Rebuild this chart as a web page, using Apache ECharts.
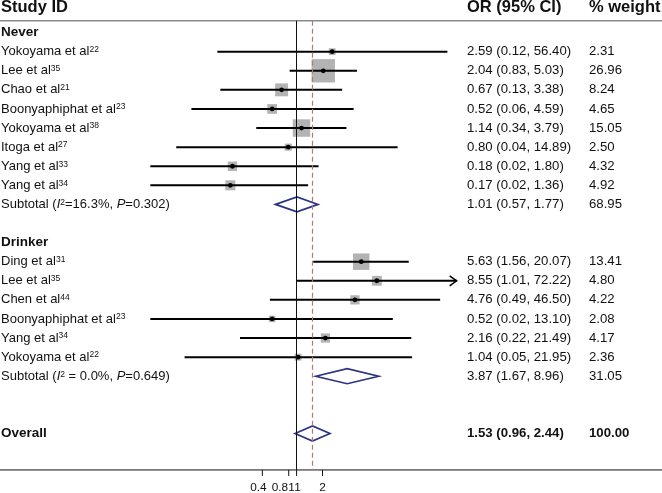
<!DOCTYPE html>
<html><head><meta charset="utf-8">
<script src="https://cdn.jsdelivr.net/npm/echarts@6/dist/echarts.min.js"></script>
<style>html,body{margin:0;padding:0;background:#fff}#main{width:662px;height:493px}</style>
</head><body><div id="main"></div>
<script>
// ---------------- DATA ----------------
const studyNames = ['Yokoyama et al','Lee et al','Chao et al','Boonyaphiphat et al','Yokoyama et al','Itoga et al','Yang et al','Yang et al',
                    'Ding et al','Lee et al','Chen et al','Boonyaphiphat et al','Yang et al','Yokoyama et al'];
const studyRefs = ['22','35','21','23','38','27','33','34','31','35','44','23','34','22'];
const studyRows = [1,2,3,4,5,6,7,8,12,13,14,15,16,17];
const studyOR   = [2.59,2.04,0.67,0.52,1.14,0.80,0.18,0.17,5.63,8.55,4.76,0.52,2.16,1.04];
const studyLow  = [0.12,0.83,0.13,0.06,0.34,0.04,0.02,0.02,1.56,1.01,0.49,0.02,0.22,0.05];
const studyHigh = [56.40,5.03,3.38,4.59,3.79,14.89,1.80,1.36,20.07,72.22,46.50,13.10,21.49,21.95];
const studyWeight = [2.31,26.96,8.24,4.65,15.05,2.50,4.32,4.92,13.41,4.80,4.22,2.08,4.17,2.36];

const groupNames = ['Never','Drinker'];
const groupRows = [0, 11];
const subtotalRows = [9, 18];
const subtotalI2Text = ['=16.3%', ' = 0.0%'];
const subtotalP = ['0.302', '0.649'];
const subtotalOR = [1.01, 3.87];
const subtotalLow = [0.57, 1.67];
const subtotalHigh = [1.77, 8.96];
const subtotalWeight = [68.95, 31.05];

const overallRow = 21;
const overallOR = 1.53, overallLow = 0.96, overallHigh = 2.44, overallWeight = 100.00;

const tickValues = [0.4, 0.81, 1, 2];
const tickLabels = ['0.4', '0.81', '1', '2'];

// ---------------- LAYOUT / STYLE ----------------
const FONT = '"Liberation Sans", Arial, Helvetica, sans-serif';
const HEADER_ROW = -1.31;
const COL_NAME_X = 1, COL_OR_X = 467, COL_WT_X = 589;
const BOX_SCALE = 4.5;
const ARROW_LIMIT = 60;
const Y_MIN = -0.62, Y_MAX = 22.91;
const TICK_LABEL_SHIFT = {'0.4': -4, '0.81': -5.5, '1': 1};
const TXT = '#111';

const rich = {
  h:  {fontFamily: FONT, fontSize: 16.5, fontWeight: 'bold', color: TXT},
  g:  {fontFamily: FONT, fontSize: 13.5, fontWeight: 'bold', color: TXT},
  n:  {fontFamily: FONT, fontSize: 13, color: TXT},
  it: {fontFamily: FONT, fontSize: 13, fontStyle: 'italic', color: TXT},
  s:  {fontFamily: FONT, fontSize: 8.5, color: TXT, verticalAlign: 'top'},
  v:  {fontFamily: FONT, fontSize: 13.2, color: TXT},
  vb: {fontFamily: FONT, fontSize: 13.2, fontWeight: 'bold', color: TXT}
};

const f2 = v => v.toFixed(2);
const ciText = (o, l, h) => `${f2(o)} (${f2(l)}, ${f2(h)})`;

// text items
const textItems = [];
textItems.push({row: HEADER_ROW, x: COL_NAME_X, t: '{h|Study ID}'});
textItems.push({row: HEADER_ROW, x: COL_OR_X, t: '{h|OR (95% CI)}'});
textItems.push({row: HEADER_ROW, x: COL_WT_X, t: '{h|% weight}'});
groupNames.forEach((g, k) => textItems.push({row: groupRows[k], x: COL_NAME_X, t: `{g|${g}}`}));
studyNames.forEach((nm, i) => {
  textItems.push({row: studyRows[i], x: COL_NAME_X, t: `{n|${nm}}{s|${studyRefs[i]}}`});
  textItems.push({row: studyRows[i], x: COL_OR_X, t: `{v|${ciText(studyOR[i], studyLow[i], studyHigh[i])}}`});
  textItems.push({row: studyRows[i], x: COL_WT_X, t: `{v|${f2(studyWeight[i])}}`});
});
subtotalRows.forEach((r, k) => {
  textItems.push({row: r, x: COL_NAME_X, t: `{n|Subtotal (}{it|I}{s|2}{n|${subtotalI2Text[k]}, }{it|P}{n|=${subtotalP[k]})}`});
  textItems.push({row: r, x: COL_OR_X, t: `{v|${ciText(subtotalOR[k], subtotalLow[k], subtotalHigh[k])}}`});
  textItems.push({row: r, x: COL_WT_X, t: `{v|${f2(subtotalWeight[k])}}`});
});
textItems.push({row: overallRow, x: COL_NAME_X, t: '{g|Overall}'});
textItems.push({row: overallRow, x: COL_OR_X, t: `{vb|${ciText(overallOR, overallLow, overallHigh)}}`});
textItems.push({row: overallRow, x: COL_WT_X, t: `{vb|${f2(overallWeight)}}`});

// diamonds
const diamonds = subtotalRows.map((r, k) => [subtotalOR[k], r, subtotalLow[k], subtotalHigh[k]]);
diamonds.push([overallOR, overallRow, overallLow, overallHigh]);

const chart = echarts.init(document.getElementById('main'));
chart.setOption({
  animation: false,
  backgroundColor: '#fff',
  grid: {left: 124.41, right: 193.21, top: 20.76, bottom: 23.05},
  xAxis: {type: 'log', logBase: 10, min: 0.01, max: 100, show: false},
  yAxis: {type: 'value', inverse: true, min: Y_MIN, max: Y_MAX, show: false},
  series: [
    { // frame: header rule, axis line, ticks, reference lines
      type: 'custom', coordinateSystem: 'cartesian2d', silent: true, z: 1,
      data: [[1, Y_MIN]], encode: {x: 0, y: 1},
      renderItem(params, api) {
        const W = api.getWidth();
        const top = api.coord([1, Y_MIN])[1];
        const bot = api.coord([1, Y_MAX])[1];
        const ch = [
          {type: 'line', shape: {x1: 0, y1: top, x2: W, y2: top}, style: {stroke: '#8a8a8a', lineWidth: 1.5}},
          {type: 'line', shape: {x1: 0, y1: bot, x2: W, y2: bot}, style: {stroke: '#111', lineWidth: 1}}
        ];
        tickValues.forEach((v, k) => {
          const x = api.coord([v, Y_MAX])[0];
          ch.push({type: 'line', shape: {x1: x, y1: bot, x2: x, y2: bot + 6}, style: {stroke: '#111', lineWidth: 1}});
          ch.push({type: 'text', x: x + (TICK_LABEL_SHIFT[tickLabels[k]] || 0), y: bot + 17.5,
            style: {text: tickLabels[k], fontFamily: FONT, fontSize: 11.8, fill: TXT, align: 'center', verticalAlign: 'middle'}});
        });
        return {type: 'group', children: ch};
      },
      markLine: {
        silent: true, symbol: ['none', 'none'], label: {show: false},
        data: [
          {xAxis: 1, lineStyle: {color: '#111', type: 'solid', width: 1}},
          {xAxis: overallOR, lineStyle: {color: '#b07a7a', type: [5, 3], width: 1.2}}
        ]
      }
    },
    { // studies
      type: 'custom', coordinateSystem: 'cartesian2d', silent: true, z: 3,
      data: studyOR.map((v, i) => [v, studyRows[i], studyLow[i], studyHigh[i]]),
      encode: {x: [0, 2, 3], y: 1},
      renderItem(params, api) {
        const i = params.dataIndex;
        const c = api.coord([api.value(0), api.value(1)]);
        const l = api.coord([api.value(2), api.value(1)]);
        const h = api.coord([api.value(3), api.value(1)]);
        const side = BOX_SCALE * Math.sqrt(studyWeight[i]);
        const ch = [
          {type: 'rect', shape: {x: c[0] - side / 2, y: c[1] - side / 2, width: side, height: side}, style: {fill: '#b3b3b3'}},
          {type: 'line', shape: {x1: l[0], y1: c[1], x2: h[0], y2: c[1]}, style: {stroke: '#000', lineWidth: 2}}
        ];
        if (api.value(3) > ARROW_LIMIT) {
          ch.push({type: 'polyline', shape: {points: [[h[0] - 7, c[1] - 5], [h[0], c[1]], [h[0] - 7, c[1] + 5]]},
            style: {stroke: '#000', lineWidth: 1.5, fill: null}});
        }
        ch.push({type: 'circle', shape: {cx: c[0], cy: c[1], r: 2.4}, style: {fill: '#000'}});
        return {type: 'group', children: ch};
      }
    },
    { // diamonds
      type: 'custom', coordinateSystem: 'cartesian2d', silent: true, z: 4,
      data: diamonds, encode: {x: [0, 2, 3], y: 1},
      renderItem(params, api) {
        const y = api.value(1);
        const c = api.coord([api.value(0), y]);
        const l = api.coord([api.value(2), y]);
        const h = api.coord([api.value(3), y]);
        const hh = 7.5;
        return {type: 'polygon', shape: {points: [[l[0], c[1]], [c[0], c[1] - hh], [h[0], c[1]], [c[0], c[1] + hh]]},
          style: {fill: null, stroke: '#2a3482', lineWidth: 1.7}};
      }
    },
    { // text
      type: 'custom', coordinateSystem: 'cartesian2d', silent: true, z: 5,
      data: textItems.map(t => [1, t.row]), encode: {x: 0, y: 1},
      renderItem(params, api) {
        const t = textItems[params.dataIndex];
        const p = api.coord([1, api.value(1)]);
        return {type: 'text', x: t.x, y: p[1], style: {text: t.t, rich: rich, align: 'left', verticalAlign: 'middle', fill: TXT}};
      }
    }
  ]
});
</script>
</body></html>
